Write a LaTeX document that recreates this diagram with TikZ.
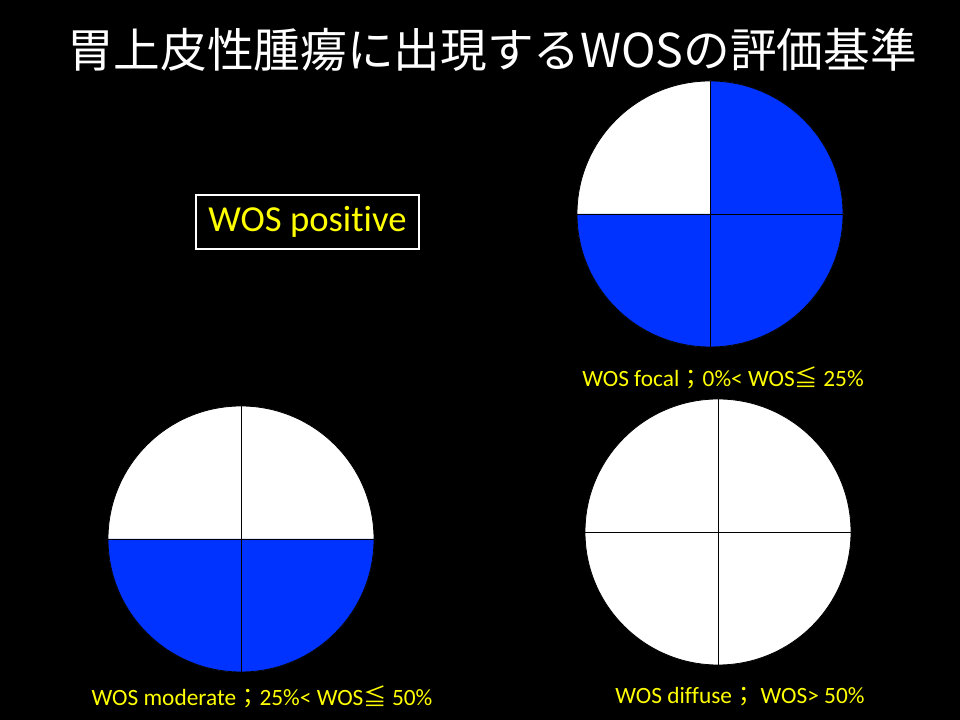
\documentclass[tikz,border=0pt]{standalone}
\usepackage{fontspec}
\setmainfont[Ligatures=NoCommon]{Carlito}
\newfontfamily\jp{Noto Sans CJK JP}
\definecolor{wosblue}{RGB}{0,51,255}
\definecolor{wosyellow}{RGB}{255,255,0}
\tikzset{
  quad/.style={draw=black, line width=0.6pt},
  divider/.style={draw=black, line width=0.6pt},
  caption/.style={text=wosyellow, inner sep=0pt, font=\fontsize{17.5}{20}\selectfont},
}
\newcommand{\jpch}[1]{{\jp #1}}
\begin{document}
\begin{tikzpicture}[x=0.75pt,y=0.75pt]
\fill[black] (0,0) rectangle (960,720);
\useasboundingbox (0,0) rectangle (960,720);
% title
\node[text=white, inner sep=0pt, font=\jp\fontsize{35}{42}\selectfont] (title) at (492,670) {胃上皮性腫瘍に出現するWOSの評価基準};
% box
\node[draw=white, line width=0.8pt, text=wosyellow, minimum width=223*0.75pt, minimum height=54*0.75pt, inner sep=0pt, font=\fontsize{27.5}{32}\selectfont] (pos) at (307.5,498) {WOS positive};

% circle 1 focal
\coordinate (c1) at (710,506);
\fill[white] (c1) circle[radius=99.75pt];
\fill[wosblue] (c1) -- ++(0,133) arc[start angle=90, end angle=-180, radius=99.75pt] -- cycle;
\draw[quad] (c1) circle[radius=99.75pt];
\draw[divider] ([yshift=-99.75pt]c1) -- ([yshift=99.75pt]c1);
\draw[divider] ([xshift=-99.75pt]c1) -- ([xshift=99.75pt]c1);
\node[caption] (cap1) at (723,342) {WOS focal\jpch{；}0\%< WOS\jpch{≦} 25\%};

% circle 2 moderate
\coordinate (c2) at (241,181);
\fill[white] (c2) circle[radius=99.75pt];
\fill[wosblue] (c2) -- ++(133,0) arc[start angle=0, end angle=-180, radius=99.75pt] -- cycle;
\draw[quad] (c2) circle[radius=99.75pt];
\draw[divider] ([yshift=-99.75pt]c2) -- ([yshift=99.75pt]c2);
\draw[divider] ([xshift=-99.75pt]c2) -- ([xshift=99.75pt]c2);
\node[caption] (cap2) at (262,23) {WOS moderate\jpch{；}25\%< WOS\jpch{≦} 50\%};

% circle 3 diffuse
\coordinate (c3) at (718,188);
\fill[white] (c3) circle[radius=99.75pt];
\draw[quad] (c3) circle[radius=99.75pt];
\draw[divider] ([yshift=-99.75pt]c3) -- ([yshift=99.75pt]c3);
\draw[divider] ([xshift=-99.75pt]c3) -- ([xshift=99.75pt]c3);
\node[caption] (cap3) at (740,23) {WOS diffuse\jpch{；} WOS> 50\%};
\end{tikzpicture}
\end{document}
